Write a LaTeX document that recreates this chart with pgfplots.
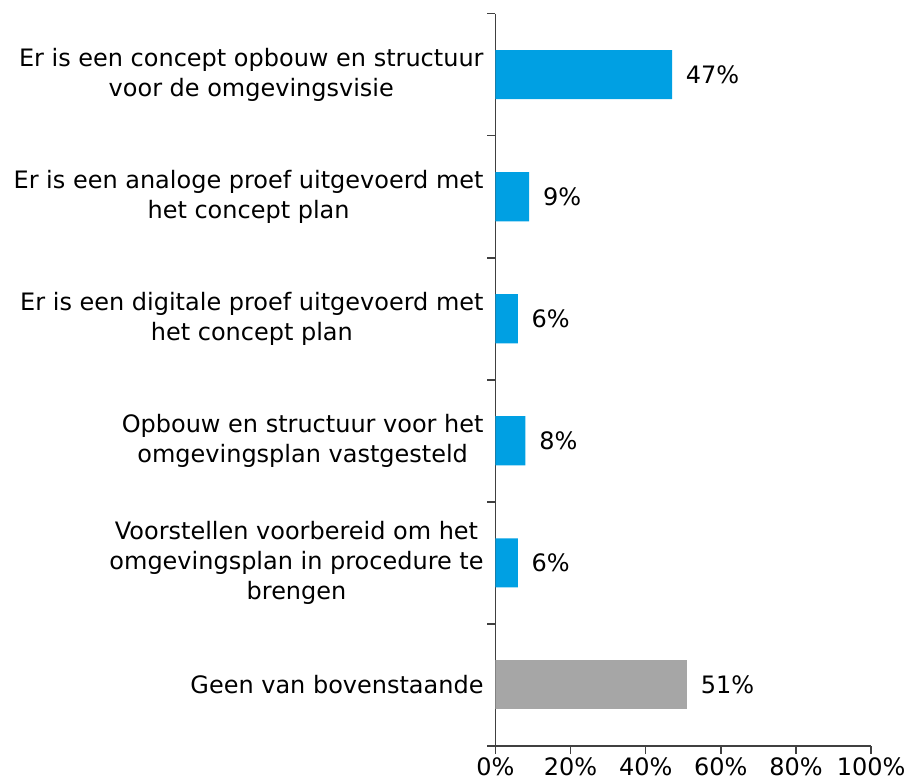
\documentclass[border={10bp 4bp 4bp 10bp}]{standalone}
\usepackage{pgfplots}
\pgfplotsset{compat=1.18}
\usepackage{fontspec}
\setmainfont{DejaVu Sans}
\definecolor{barblue}{RGB}{0,160,227}
\definecolor{bargray}{RGB}{166,166,166}
\definecolor{axgray}{RGB}{64,64,64}
\begin{document}
\begin{tikzpicture}
\begin{axis}[
  scale only axis,
  width=367bp, height=715bp,
  xbar, bar width=48bp, bar shift=0pt,
  xmin=0, xmax=100,
  ymin=-0.5, ymax=5.5,
  y dir=reverse,
  axis x line*=bottom, axis y line*=left,
  axis line style={axgray, line width=1.5bp},
  xtick={0,20,...,100},
  xticklabel={\pgfmathprintnumber{\tick}\%},
  /pgf/number format/assume math mode=true,
  every tick/.style={axgray, line width=1.5bp},
  tick align=outside,
  major tick length=8bp,
  ytick={-0.5,0.5,...,5.5},
  yticklabels={},
  extra y ticks={0,...,5},
  extra y tick labels={{Er is een concept opbouw en structuur\\voor de omgevingsvisie},
               {Er is een analoge proef uitgevoerd met\\het concept plan},
               {Er is een digitale proef uitgevoerd met\\het concept plan},
               {Opbouw en structuur voor het\\omgevingsplan vastgesteld},
               {Voorstellen voorbereid om het\\omgevingsplan in procedure te\\brengen},
               {Geen van bovenstaande}},
  extra y tick style={major tick length=0pt},
  yticklabel style={align=center, font=\fontsize{23.5}{29.5}\selectfont, xshift=-8bp},
  xticklabel style={font=\fontsize{23.5}{29.5}\selectfont},
  nodes near coords={\pgfmathprintnumber{\pgfplotspointmeta}\%},
  nodes near coords style={font=\fontsize{23.5}{29.5}\selectfont, anchor=west, xshift=10bp, black},
  point meta=x,
]
\addplot[fill=barblue, draw=none] coordinates {(47,0) (9,1) (6,2) (8,3) (6,4)};
\addplot[fill=bargray, draw=none] coordinates {(51,5)};
\end{axis}
\end{tikzpicture}
\end{document}
